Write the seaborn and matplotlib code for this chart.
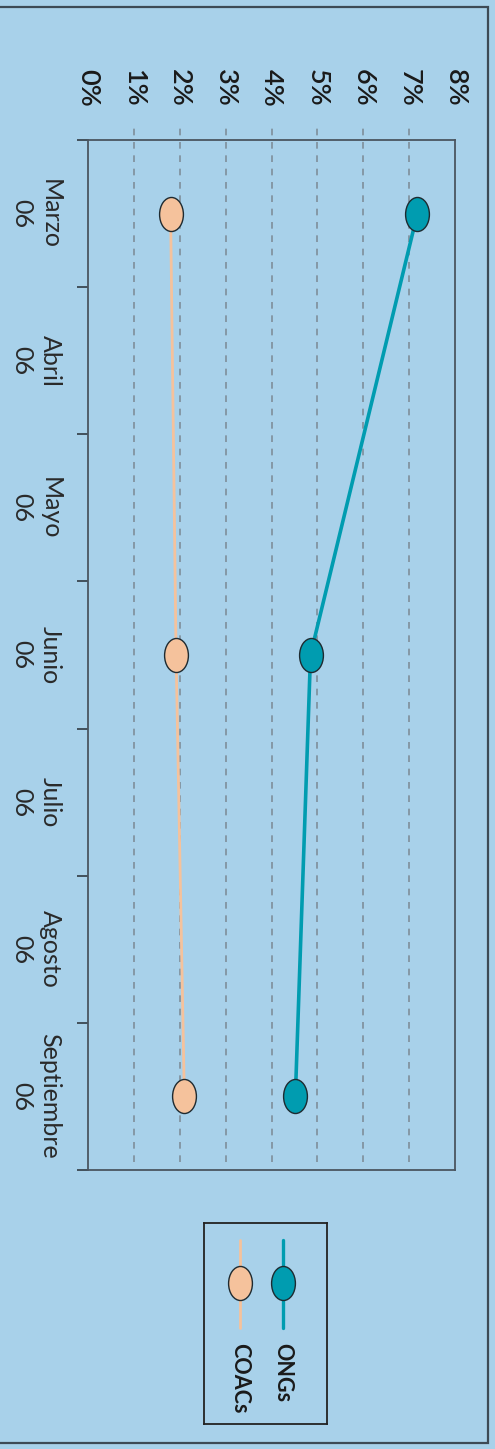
import numpy as np
import pandas as pd
import seaborn as sns
import matplotlib
matplotlib.use("Agg")
import matplotlib.pyplot as plt
from matplotlib.path import Path
from matplotlib.patches import Rectangle

# datos
meses = ['Marzo\n06', 'Abril\n06', 'Mayo\n06', 'Junio\n06', 'Julio\n06', 'Agosto\n06', 'Septiembre\n06']
meses_dato = ['Marzo\n06', 'Junio\n06', 'Septiembre\n06']
ongs = [7.18, 4.85, 4.52]
coacs = [1.80, 1.92, 2.10]
pct_ticks = [0, 1, 2, 3, 4, 5, 6, 7, 8]
pct_labels = ['0%', '1%', '2%', '3%', '4%', '5%', '6%', '7%', '8%']

fondo = '#a8d1ea'
c_ongs = '#009cb0'
c_coacs = '#f5c29c'

sns.set_style('white')
plt.rcParams['font.family'] = ['Lato', 'DejaVu Sans']

df = pd.DataFrame({
    'mes': meses_dato * 2,
    'valor': ongs + coacs,
    'serie': ['ONGs'] * 3 + ['COACs'] * 3,
})
df['pos'] = [meses.index(m) for m in df['mes']]

# marcador eliptico (alto > ancho)
circ = Path.unit_circle()
elipse = Path(circ.vertices * np.array([0.70, 1.0]), circ.codes)

fig = plt.figure(figsize=(4.95, 14.49), dpi=100)
fig.patch.set_facecolor(fondo)
ax = fig.add_axes([0.1778, 0.1926, 0.7414, 0.7108])
ax.set_facecolor(fondo)

# rejilla discontinua
ax.vlines(pct_ticks[1:-1], 0.0078, 1.0146, transform=ax.get_xaxis_transform(),
          colors='#7e8e9a', linestyles=(0, (4, 4)), linewidth=1.2, clip_on=False, zorder=1)

for nombre, col, lw in [('COACs', c_coacs, 2.0), ('ONGs', c_ongs, 2.6)]:
    sub = df[df['serie'] == nombre]
    sns.lineplot(data=sub, x='valor', y='pos', orient='y', color=col, linewidth=lw,
                 marker=elipse, markersize=24.5, markerfacecolor=col,
                 markeredgecolor='#1e2a30', markeredgewidth=1.0, ax=ax, zorder=3)

ax.set_xlim(0, 8)
ax.set_ylim(6.5, -0.5)
ax.set_xlabel('')
ax.set_ylabel('')

ax.xaxis.tick_top()
ax.set_xticks(pct_ticks)
ax.set_xticklabels(pct_labels, rotation=-90, fontsize=19.5, fontweight='semibold', color='#1a1a1a')
ax.tick_params(axis='x', length=0, pad=24)

ax.set_yticks(range(len(meses)))
ax.set_yticklabels(meses, rotation=-90, fontsize=18, fontweight='normal', color='#2a2a2a',
                   linespacing=1.3, va='center')
for lab in ax.get_yticklabels():
    lab.set_multialignment('center')
ax.set_yticks(np.arange(-0.5, 7, 1), minor=True)
ax.tick_params(axis='y', which='major', length=0, pad=19)
ax.tick_params(axis='y', which='minor', left=True, length=8, width=1.3, color='#3a4650', direction='out')

for s in ax.spines.values():
    s.set_color('#4a5560')
    s.set_linewidth(1.3)

# leyenda manual (rotada)
lax = fig.add_axes([0.4121, 0.01725, 0.2485, 0.1387])
lax.set_facecolor(fondo)
lax.set_xlim(0, 1)
lax.set_ylim(0, 1)
lax.set_xticks([])
lax.set_yticks([])
for s in lax.spines.values():
    s.set_color('#222222')
    s.set_linewidth(1.3)
for nombre, col, xx, lw in [('ONGs', c_ongs, 0.642, 2.4), ('COACs', c_coacs, 0.293, 2.0)]:
    lax.plot([xx, xx], [0.478, 0.915], color=col, linewidth=lw)
    lax.plot([xx], [0.70], marker=elipse, markersize=24.5, color=col,
             markeredgecolor='#1e2a30', markeredgewidth=1.0)
    lax.text(xx, 0.403, nombre, rotation=-90, rotation_mode='anchor', ha='left', va='center',
             fontsize=15.5, fontweight='bold', color='#1a1a1a')

# marco exterior
fig.add_artist(Rectangle((-0.01, 0.00414), 0.9959, 0.99106, transform=fig.transFigure,
                         fill=False, edgecolor='#3d4a55', linewidth=1.6))

fig.savefig('out.png', dpi=100, facecolor=fondo)
